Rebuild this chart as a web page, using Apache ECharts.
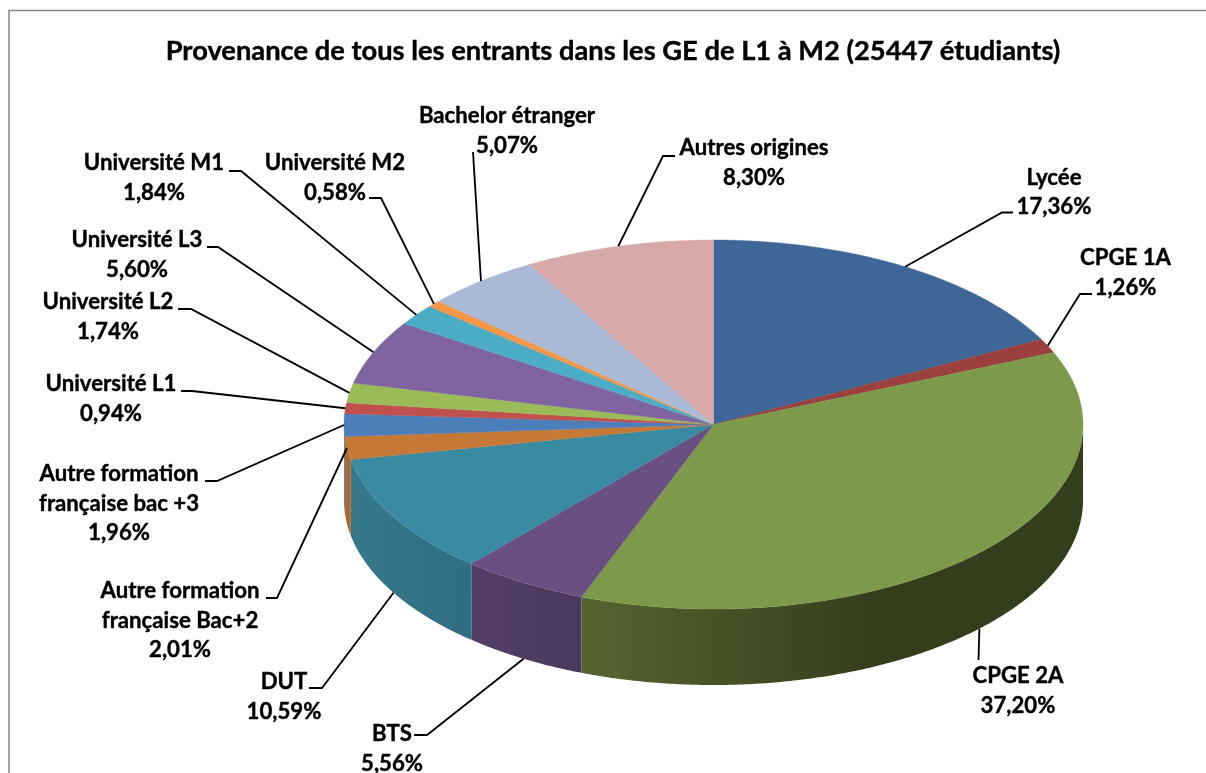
<!DOCTYPE html>
<html>
<head>
<meta charset="utf-8">
<script src="https://cdn.jsdelivr.net/npm/echarts@6/dist/echarts.min.js"></script>
<style>html,body{margin:0;padding:0;background:#fff;overflow:hidden}#c{width:1206px;height:773px}</style>
</head>
<body>
<div id="c"></div>
<script>
// ---- data ----
const titleText = 'Provenance de tous les entrants dans les GE de L1 à M2 (25447 étudiants)';
const categories = ['Lycée','CPGE 1A','CPGE 2A','BTS','DUT','Autre formation\nfrançaise Bac+2','Autre formation\nfrançaise bac +3','Université L1','Université L2','Université L3','Université M1','Université M2','Bachelor étranger','Autres origines'];
const shares = [17.36,1.26,37.20,5.56,10.59,2.01,1.96,0.94,1.74,5.60,1.84,0.58,5.07,8.30];

// ---- styles ----
const topColors = ['#3e6797','#9a403e','#7d994a','#6a5082','#3a8ba2','#c67836','#4c7fba','#bf504e','#9bbb59','#8064a2','#4bacc6','#f79646','#aab9d6','#d7a8a8'];
const sideStops = {
  2:[[0,'#55652f'],[0.6,'#343d1c'],[1,'#343d1c']],
  3:[[0,'#544067'],[1,'#4a385e']],
  4:[[0,'#35788c'],[1,'#306d80']],
  5:[[0,'#b06a30'],[1,'#a9632c']],
  6:[[0,'#42699b'],[1,'#42699b']]
};
const FONT = 'Lato, "Open Sans", sans-serif';
const LABEL_SIZE = 22.2, TITLE_SIZE = 27.3, LINE_H = 29.5;

// ---- layout ----
const grid = {left:344, top:240, width:739, height:369};
const depthUnits = 76 / 184.5;   // wall height, in y-axis units
// text centre (first line middle), elbow and tail of each leader; onWall: the leader meets the lower rim
const labelLayout = [
  {x:1054,y:177.5,elbow:[1002,212.5],tail:[1013,212.5]},
  {x:1125.5,y:258,elbow:[1080,294],tail:[1092,294]},
  {x:1018,y:676,tail:[978.5,660],onWall:true},
  {x:392,y:734,elbow:[427,735],tail:[414,735],onWall:true},
  {x:284,y:682,elbow:[322,688],tail:[309,688],onWall:true},
  {x:180,y:591,elbow:[277,598],tail:[266,598]},
  {x:119,y:474,elbow:[217,481],tail:[205,481]},
  {x:111,y:384,elbow:[192,391],tail:[181,391]},
  {x:108,y:302,elbow:[191,309],tail:[178,309]},
  {x:137,y:240,elbow:[218,247],tail:[207,247]},
  {x:154,y:163,elbow:[241,171],tail:[229,171]},
  {x:335,y:163,elbow:[381,198],tail:[369,198]},
  {x:507,y:116,tail:[473,152]},
  {x:754,y:148,elbow:[663,156],tail:[675,156]}
];

// ---- angles derived from the values (clockwise from 12 o'clock) ----
const total = shares.reduce((a,b)=>a+b,0);
let run = 0;
const sweeps = shares.map(v=>{ const s=run/total*360; run+=v; return [s, run/total*360]; });
const rad = d => d*Math.PI/180;
const rim = (deg, drop) => [Math.sin(rad(deg)), Math.cos(rad(deg)) - (drop||0)];
const arc = (a,b,drop) => { const n=Math.max(2,Math.ceil(Math.abs(b-a))*2), p=[]; for(let i=0;i<=n;i++) p.push(rim(a+(b-a)*i/n,drop)); return p; };

function renderSlice(params, api){
  const i = params.dataIndex, [a,b] = sweeps[i];
  const toPx = p => api.coord(p);
  const kids = [];
  const lo = Math.max(a,90), hi = Math.min(b,270);
  if (hi > lo) {
    const pts = arc(lo,hi,0).concat(arc(hi,lo,depthUnits)).map(toPx);
    const stops = (sideStops[i]||[[0,topColors[i]],[1,topColors[i]]]).map(s=>({offset:s[0],color:s[1]}));
    kids.push({type:'polygon', shape:{points:pts}, style:{
      fill:new echarts.graphic.LinearGradient(0,0,1,0,stops), stroke:null}});
  }
  const pts = [[0,0]].concat(arc(a,b,0)).map(toPx);
  kids.push({type:'polygon', shape:{points:pts}, style:{fill:topColors[i], stroke:topColors[i], lineWidth:0.4}});
  return {type:'group', children:kids};
}

function renderLabel(params, api){
  const i = params.dataIndex, L = labelLayout[i], [a,b] = sweeps[i];
  const anchor = api.coord(rim((a+b)/2, L.onWall?depthUnits:0));
  const line = L.elbow ? [anchor, L.elbow, L.tail] : [anchor, L.tail];
  const pct = shares[i].toFixed(2).replace('.',',') + '%';
  const text = categories[i]+'\n'+pct;
  const nLines = text.split('\n').length;
  return {type:'group', children:[
    {type:'polyline', shape:{points:line}, style:{stroke:'#000', lineWidth:1.8, fill:null}},
    {type:'text', x:L.x, y:L.y + (nLines-1)*LINE_H/2, style:{
      text:text, fill:'#000', stroke:'#000', lineWidth:0.4, align:'center', verticalAlign:'middle',
      font:'700 '+LABEL_SIZE+'px '+FONT, lineHeight:LINE_H}}
  ]};
}

const rows = shares.map((v,i)=>({name:categories[i].replace('\n',' '), value:[0,0,v]}));
const chart = echarts.init(document.getElementById('c'), null, {renderer:'canvas'});
chart.setOption({
  animation:false,
  backgroundColor:'#ffffff',
  title:{text:titleText, left:608, top:33, textAlign:'center',
    textStyle:{fontFamily:FONT, fontWeight:700, fontSize:TITLE_SIZE, color:'#000', textBorderColor:'#000', textBorderWidth:0.4}},
  grid:Object.assign({containLabel:false}, grid),
  xAxis:{type:'value', min:-1, max:1, show:false},
  yAxis:{type:'value', min:-1, max:1, show:false},
  series:[
    {type:'custom', coordinateSystem:'cartesian2d', renderItem:renderSlice, data:rows, z:2, clip:false, silent:true},
    {type:'custom', coordinateSystem:'cartesian2d', renderItem:renderLabel, data:rows, z:3, clip:false, silent:true}
  ],
  graphic:[{type:'polyline', z:1, silent:true, shape:{points:[[9,773],[9,10.5],[1206,10.5]]},
    style:{stroke:'#868686', lineWidth:1.5, fill:null}}]
});
</script>
</body>
</html>
